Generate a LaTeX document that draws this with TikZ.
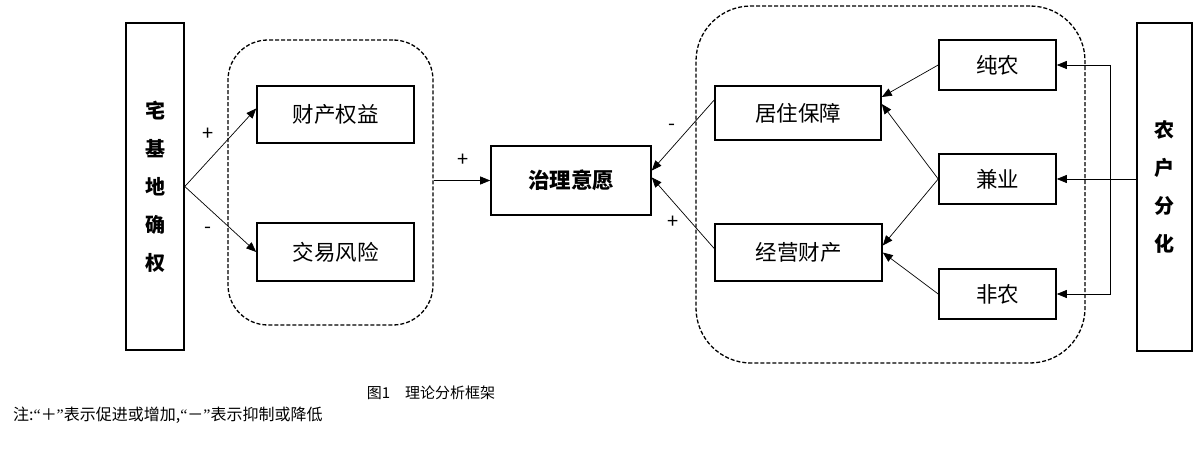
\documentclass[tikz,border=0pt]{standalone}
\usepackage{fontspec}
\setmainfont{Noto Sans CJK SC}
\newfontfamily\latinq{Liberation Serif}
\usetikzlibrary{arrows.meta}
\begin{document}
\begin{tikzpicture}[x=1pt,y=-1pt,
  box/.style={draw,line width=1.6pt,inner sep=0pt,font=\fontsize{21.5}{24}\selectfont},
  grp/.style={draw,dash pattern=on 4pt off 2pt,line width=1.3pt,inner sep=0pt},
  arr/.style={line width=0.7pt,-{Triangle[length=10pt,width=8pt]}},
  sgn/.style={font=\fontsize{20}{20}\selectfont,inner sep=0pt}]
\useasboundingbox[fill=white] (0,0) rectangle (1200,449);
% groups
\node[grp,rounded corners=40pt,minimum width=205pt,minimum height=285pt] (ld) at (330.5,182.5) {};
\node[grp,rounded corners=55pt,minimum width=389pt,minimum height=357pt] (rd) at (890.5,184.5) {};
% boxes
\node[box,minimum width=58pt,minimum height=327pt,align=center,font=\fontsize{20}{38}\selectfont\bfseries] (zj) at (155,186.5) {宅\\基\\地\\确\\权};
\node[box,minimum width=157pt,minimum height=57pt] (cc) at (335.5,114.5) {财产权益};
\node[box,minimum width=157pt,minimum height=58pt] (jy) at (335.5,252) {交易风险};
\node[box,minimum width=160pt,minimum height=69pt,font=\fontsize{21.5}{24}\selectfont\bfseries] (zl) at (571,180.5) {治理意愿};
\node[box,minimum width=166pt,minimum height=54pt] (jz) at (798,113) {居住保障};
\node[box,minimum width=167pt,minimum height=57pt] (jyc) at (798.5,252.5) {经营财产};
\node[box,minimum width=117pt,minimum height=50pt] (cn) at (997.5,65) {纯农};
\node[box,minimum width=117pt,minimum height=50pt] (jyy) at (997.5,179) {兼业};
\node[box,minimum width=117pt,minimum height=50pt] (fn) at (997.5,294) {非农};
\node[box,minimum width=55pt,minimum height=328pt,align=center,font=\fontsize{20}{38}\selectfont\bfseries] (nh) at (1164.5,187) {农\\户\\分\\化};
% arrows left
\draw[arr] (zj.east) -- ([yshift=6pt]cc.west);
\draw[arr] (zj.east) -- (jy.west);
\draw[arr] (ld.east|-zl.west) -- (zl.west);
% arrows middle
\draw[arr] ([yshift=13pt]jz.west) -- ([yshift=10pt]zl.east);
\draw[arr] ([yshift=4pt]jyc.west) -- ([yshift=3pt]zl.east);
% arrows right
\draw[arr] (cn.west) -- ([yshift=16pt]jz.east);
\draw[arr] (jyy.west) -- ([yshift=9pt]jz.east);
\draw[arr] (jyy.west) -- ([yshift=7pt]jyc.east);
\draw[arr] (fn.west) -- ([yshift=0pt]jyc.east);
% from nh
\path (cn.east) ++(54,0) coordinate (bt);
\path (fn.east) ++(54,0) coordinate (bb);
\draw[line width=0.7pt] (bt) -- (bb);
\draw[arr] (bt) -- (cn.east);
\draw[arr] (bb) -- (fn.east);
\draw[arr] (nh.west|-jyy.east) -- (jyy.east);
% signs
\node[sgn] (s1) at (208,134) {+};
\node[sgn] (s2) at (208,230) {-};
\node[sgn] (s3) at (463,160) {+};
\node[sgn] (s4) at (672,127) {-};
\node[sgn] (s5) at (673,222) {+};
% caption
\node[font=\fontsize{15}{17}\selectfont,inner sep=0pt] (cap) at (431,393) {图1\quad 理论分析框架};
\node[font=\fontsize{16}{18}\selectfont,inner sep=0pt,anchor=west] (note) at (13,415) {注:{\latinq “}＋{\latinq ”}表示促进或增加,{\latinq “}－{\latinq ”}表示抑制或降低};
\end{tikzpicture}
\end{document}
